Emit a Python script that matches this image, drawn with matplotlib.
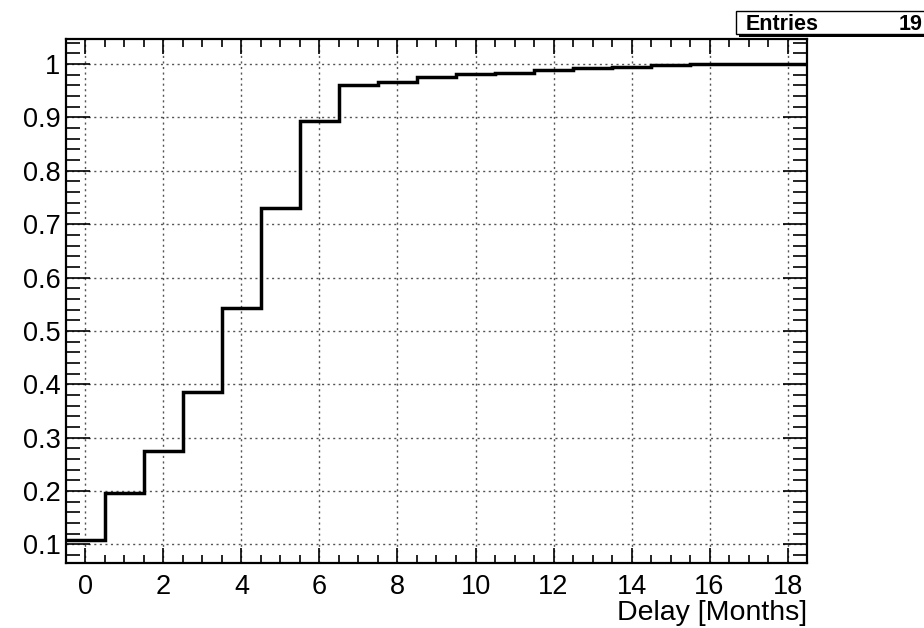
import matplotlib
matplotlib.use("Agg")
import matplotlib.pyplot as plt
import numpy as np
from matplotlib.patches import Rectangle
from matplotlib.ticker import MultipleLocator

# cumulative fraction per month bin
months = np.arange(19)
cum_frac = [0.108, 0.197, 0.275, 0.385, 0.543, 0.731, 0.894, 0.960, 0.967,
            0.975, 0.981, 0.984, 0.988, 0.992, 0.995, 0.998, 1.0, 1.0, 1.0]
x_ticks = [0, 2, 4, 6, 8, 10, 12, 14, 16, 18]
y_ticks = [0.1, 0.2, 0.3, 0.4, 0.5, 0.6, 0.7, 0.8, 0.9, 1.0]
y_tick_labels = ["0.1", "0.2", "0.3", "0.4", "0.5", "0.6", "0.7", "0.8", "0.9", "1"]
stat_name = "Entries"
stat_value = "19"

plt.rcParams["font.family"] = ["Liberation Sans", "DejaVu Sans"]

def main():
    fig = plt.figure(figsize=(9.24, 6.28), dpi=100)
    ax = fig.add_axes([0.0714, 0.1035, 0.802, 0.8344])

    edges = np.append(months - 0.5, months[-1] + 0.5)
    ax.stairs(cum_frac, edges, baseline=None, color="black", linewidth=2.5)

    ax.set_xlim(-0.5, 18.5)
    ax.set_ylim(0.065, 1.047)
    ax.set_xticks(x_ticks)
    ax.set_xticklabels([str(t) for t in x_ticks])
    ax.set_yticks(y_ticks)
    ax.set_yticklabels(y_tick_labels)
    ax.xaxis.set_minor_locator(MultipleLocator(0.5))
    ax.yaxis.set_minor_locator(MultipleLocator(0.02))

    # ROOT style: ticks inside on all sides
    ax.tick_params(axis="both", which="both", direction="in", top=True, right=True,
                   colors="black", width=1.2)
    ax.tick_params(axis="x", which="major", length=11, labelsize=19.5, pad=8)
    ax.tick_params(axis="x", which="minor", length=5.5)
    ax.tick_params(axis="y", which="major", length=17, labelsize=19.5, pad=4)
    ax.tick_params(axis="y", which="minor", length=10)

    ax.grid(True, which="major", linestyle=(0, (1.5, 2.5)), color="#555555", linewidth=1.0)
    ax.set_axisbelow(True)
    for s in ax.spines.values():
        s.set_linewidth(1.6)

    ax.set_xlabel("Delay [Months]", fontsize=20.5, loc="right", labelpad=0)

    # stats box, cut off at the right edge
    fig.patches.append(Rectangle((739 / 924, 1 - 37 / 628), 190 / 924, 4 / 628,
                                 transform=fig.transFigure, facecolor="black",
                                 edgecolor="none", zorder=5))
    fig.patches.append(Rectangle((736 / 924, 1 - 34 / 628), 200 / 924, 23 / 628,
                                 transform=fig.transFigure, facecolor="white",
                                 edgecolor="black", linewidth=1.0, zorder=6))
    fig.text(746 / 924, 1 - 24 / 628, stat_name, fontsize=15.5, fontweight="bold",
             va="center", ha="left", zorder=7)
    fig.text(923 / 924, 1 - 24 / 628, stat_value, fontsize=15.5, fontweight="bold",
             va="center", ha="right", zorder=7)

    fig.savefig("out.png", dpi=100)

if __name__ == "__main__":
    main()
